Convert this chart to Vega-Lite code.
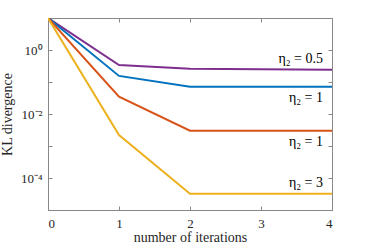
{
  "$schema": "https://vega.github.io/schema/vega-lite/v6.json",
  "width": 284,
  "height": 192,
  "autosize": "none",
  "padding": {"left": 48, "top": 18, "right": 35, "bottom": 35},
  "background": "white",
  "config": {
    "view": {"stroke": "#888888", "strokeWidth": 1},
    "font": "Liberation Serif",
    "axis": {
      "labelFont": "Liberation Serif",
      "titleFont": "Liberation Serif",
      "labelColor": "#262626",
      "titleColor": "#262626",
      "labelFontSize": 13,
      "titleFontSize": 14,
      "titleFontWeight": "normal",
      "domainColor": "#888888",
      "tickColor": "#888888",
      "grid": false
    }
  },
  "data": {
    "values": [
      {"iter": 0, "kl": 10, "series": "s05", "label": "η₂ = 0.5"},
      {"iter": 1, "kl": 0.34, "series": "s05", "label": "η₂ = 0.5"},
      {"iter": 2, "kl": 0.26, "series": "s05", "label": "η₂ = 0.5"},
      {"iter": 3, "kl": 0.25, "series": "s05", "label": "η₂ = 0.5"},
      {"iter": 4, "kl": 0.24, "series": "s05", "label": "η₂ = 0.5"},
      {"iter": 0, "kl": 10, "series": "s1a", "label": "η₂ = 1"},
      {"iter": 1, "kl": 0.155, "series": "s1a", "label": "η₂ = 1"},
      {"iter": 2, "kl": 0.071, "series": "s1a", "label": "η₂ = 1"},
      {"iter": 3, "kl": 0.071, "series": "s1a", "label": "η₂ = 1"},
      {"iter": 4, "kl": 0.071, "series": "s1a", "label": "η₂ = 1"},
      {"iter": 0, "kl": 10, "series": "s1b", "label": "η₂ = 1"},
      {"iter": 1, "kl": 0.035, "series": "s1b", "label": "η₂ = 1"},
      {"iter": 2, "kl": 0.003, "series": "s1b", "label": "η₂ = 1"},
      {"iter": 3, "kl": 0.003, "series": "s1b", "label": "η₂ = 1"},
      {"iter": 4, "kl": 0.003, "series": "s1b", "label": "η₂ = 1"},
      {"iter": 0, "kl": 10, "series": "s3", "label": "η₂ = 3"},
      {"iter": 1, "kl": 0.0022, "series": "s3", "label": "η₂ = 3"},
      {"iter": 2, "kl": 0.000032, "series": "s3", "label": "η₂ = 3"},
      {"iter": 3, "kl": 0.000032, "series": "s3", "label": "η₂ = 3"},
      {"iter": 4, "kl": 0.000032, "series": "s3", "label": "η₂ = 3"}
    ]
  },
  "resolve": {"axis": {"x": "independent", "y": "independent"}},
  "layer": [
    {
      "mark": {"type": "line", "strokeWidth": 2, "clip": true},
      "encoding": {
        "x": {
          "field": "iter", "type": "quantitative",
          "scale": {"domain": [0, 4], "nice": false},
          "axis": {"values": [0, 1, 2, 3, 4], "title": "number of iterations", "tickSize": -4, "labelPadding": 11, "titlePadding": 0, "format": "d"}
        },
        "y": {
          "field": "kl", "type": "quantitative",
          "scale": {"type": "log", "domain": [0.00001, 10], "nice": false},
          "axis": {
            "values": [0.00001, 0.0001, 0.001, 0.01, 0.1, 1, 10],
            "labelExpr": "datum.value == 1 ? '10⁰' : (abs(datum.value - 0.01) < 1e-6 ? '10⁻²' : (abs(datum.value - 0.0001) < 1e-8 ? '10⁻⁴' : ''))",
            "title": "KL divergence", "tickSize": -4, "labelPadding": 10, "titlePadding": 6
          }
        },
        "color": {
          "field": "series", "type": "nominal",
          "scale": {"domain": ["s05", "s1a", "s1b", "s3"], "range": ["#7E2F8E", "#0072BD", "#D95319", "#EDB120"]},
          "legend": null
        }
      }
    },
    {
      "mark": {"type": "line", "opacity": 0},
      "encoding": {
        "x": {
          "field": "iter", "type": "quantitative",
          "axis": {"orient": "top", "values": [0, 1, 2, 3, 4], "title": null, "labels": false, "tickSize": -4, "domain": false}
        },
        "y": {
          "field": "kl", "type": "quantitative",
          "axis": {"orient": "right", "values": [0.00001, 0.0001, 0.001, 0.01, 0.1, 1, 10], "title": null, "labels": false, "tickSize": -4, "domain": false}
        },
        "detail": {"field": "series"}
      }
    },
    {
      "transform": [{"filter": "datum.iter == 4 && (datum.series == 's05' || datum.series == 's3')"}],
      "mark": {"type": "text", "align": "right", "baseline": "middle", "dx": -9, "dy": -11, "fontSize": 14, "font": "Liberation Serif"},
      "encoding": {
        "x": {"field": "iter", "type": "quantitative", "axis": null},
        "y": {"field": "kl", "type": "quantitative", "axis": null},
        "text": {"field": "label"}, "color": {"value": "black"}
      }
    },
    {
      "transform": [{"filter": "datum.iter == 4 && (datum.series == 's1a' || datum.series == 's1b')"}],
      "mark": {"type": "text", "align": "right", "baseline": "middle", "dx": -9, "dy": 11, "fontSize": 14, "font": "Liberation Serif"},
      "encoding": {
        "x": {"field": "iter", "type": "quantitative", "axis": null},
        "y": {"field": "kl", "type": "quantitative", "axis": null},
        "text": {"field": "label"}, "color": {"value": "black"}
      }
    }
  ]
}
